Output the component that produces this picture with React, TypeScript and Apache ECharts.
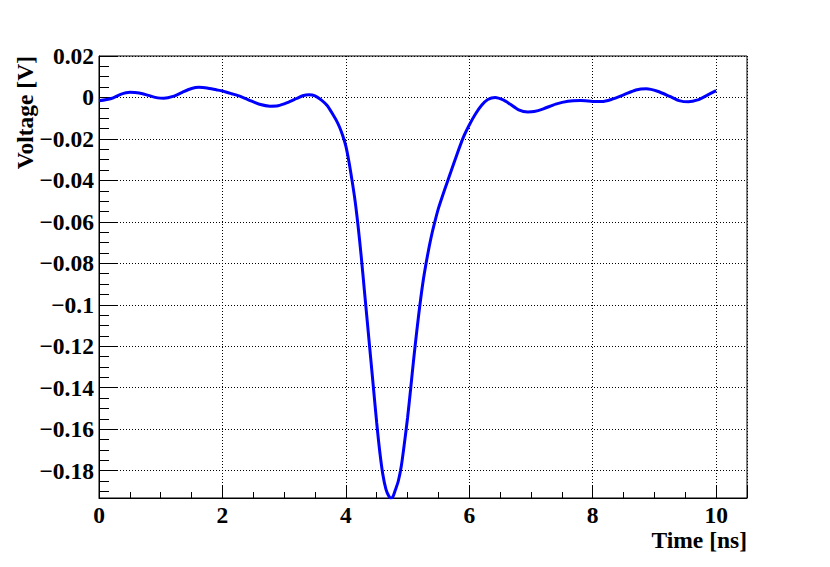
import React, { useEffect, useRef } from 'react';
import * as echarts from 'echarts';

// Time [ns]
const timeNs = [
  0.0, 0.2, 0.35, 0.5, 0.65, 0.8, 0.95, 1.05, 1.2, 1.35, 1.5, 1.62, 1.75, 1.9, 2.0,
  2.15, 2.3, 2.45, 2.6, 2.77, 2.9, 3.05, 3.2, 3.3, 3.4, 3.5, 3.6, 3.7, 3.8, 3.85,
  3.9, 3.95, 4.0, 4.05, 4.1, 4.15, 4.2, 4.25, 4.3, 4.35, 4.4, 4.45, 4.5, 4.55, 4.6,
  4.65, 4.7, 4.73, 4.76, 4.8, 4.85, 4.9, 4.95, 5.0, 5.05, 5.1, 5.15, 5.2, 5.25, 5.3,
  5.35, 5.4, 5.45, 5.5, 5.6, 5.7, 5.8, 5.9, 6.0, 6.1, 6.2, 6.3, 6.42, 6.55,
  6.66, 6.8, 6.95, 7.05, 7.2, 7.4, 7.6, 7.8, 8.0, 8.15, 8.3, 8.5, 8.7, 8.87, 9.05,
  9.25, 9.4, 9.55, 9.7, 9.85, 10.0,
];
// Voltage [V]
const voltageV = [
  -0.0016, -0.0005, 0.0015, 0.0025, 0.0022, 0.001, -0.0002, -0.0004, 0.0005, 0.0025, 0.0043, 0.0049, 0.0046, 0.0037, 0.0031,
  0.0018, 0.0004, -0.0015, -0.0033, -0.0042, -0.004, -0.0025, -0.0005, 0.0008, 0.0013, 0.0008, -0.0012, -0.004, -0.0087, -0.0113,
  -0.0145, -0.0185, -0.0235, -0.031, -0.04, -0.05, -0.0625, -0.077, -0.093, -0.109, -0.125, -0.141, -0.157, -0.171, -0.182,
  -0.189, -0.1925, -0.1932, -0.1927, -0.1895, -0.185, -0.1775, -0.1665, -0.1545, -0.1405, -0.126, -0.1125, -0.1, -0.089, -0.08,
  -0.072, -0.065, -0.059, -0.0535, -0.0445, -0.036, -0.0275, -0.0195, -0.0133, -0.008, -0.0038, -0.001, 0.0, -0.0012,
  -0.0032, -0.006, -0.007, -0.0068, -0.0055, -0.0032, -0.0018, -0.0015, -0.0019, -0.002, -0.001, 0.0012, 0.0036, 0.0042, 0.003,
  0.0005, -0.0015, -0.0021, -0.0012, 0.001, 0.0033,
];

const xTickValues = [0, 2, 4, 6, 8, 10];
const xTickLabels = ['0', '2', '4', '6', '8', '10'];
const yTickValues = [0.02, 0, -0.02, -0.04, -0.06, -0.08, -0.1, -0.12, -0.14, -0.16, -0.18];
const yTickLabels = ['0.02', '0', '\u22120.02', '\u22120.04', '\u22120.06', '\u22120.08', '\u22120.1', '\u22120.12', '\u22120.14', '\u22120.16', '\u22120.18'];

const X_MIN = 0;
const X_MAX = 10.5;
const Y_MIN = -0.1932;
const Y_MAX = 0.02;

const FONT = '"Liberation Serif", "Times New Roman", serif';
const FS = 23.5;

function lookup(values: number[], labels: string[], v: number): string {
  for (let i = 0; i < values.length; i++) {
    if (Math.abs(values[i] - v) < 1e-7) return labels[i];
  }
  return '';
}

export default function App() {
  const ref = useRef<HTMLDivElement>(null);
  useEffect(() => {
    if (!ref.current) return;
    const chart = echarts.init(ref.current, null, { renderer: 'svg' });
    // The y axis is drawn inverted on the negated voltage so that its
    // tick origin (-Y_MAX = -0.02) is a multiple of the tick interval.
    const data = timeNs.map((t, i) => [t, -voltageV[i]]);
    const gridLine = { show: true, lineStyle: { color: '#000', width: 1, type: [1, 2] as any } };
    chart.setOption({
      animation: false,
      backgroundColor: '#fff',
      grid: {
        left: 99,
        right: 83,
        top: 56,
        bottom: 69,
        show: true,
        borderColor: '#000',
        borderWidth: 1,
        backgroundColor: 'transparent',
      },
      xAxis: [
        {
          type: 'value',
          min: X_MIN,
          max: X_MAX,
          interval: 2,
          axisLine: { show: true, onZero: false, lineStyle: { color: '#000', width: 1 } },
          axisTick: { show: true, inside: true, length: 12, lineStyle: { color: '#000' } },
          axisLabel: {
            margin: 5,
            fontFamily: FONT,
            fontWeight: 'bold',
            fontSize: FS,
            color: '#000',
            formatter: (v: number) => lookup(xTickValues, xTickLabels, v),
          },
          splitLine: gridLine,
        },
        {
          type: 'value',
          min: X_MIN,
          max: X_MAX,
          interval: 0.5,
          position: 'bottom',
          axisLine: { show: false, onZero: false },
          axisTick: { show: true, inside: true, length: 6, lineStyle: { color: '#000' } },
          axisLabel: { show: false },
          splitLine: { show: false },
        },
      ],
      yAxis: [
        {
          type: 'value',
          inverse: true,
          min: -Y_MAX,
          max: -Y_MIN,
          interval: 0.02,
          axisLine: { show: true, onZero: false, lineStyle: { color: '#000', width: 1 } },
          axisTick: { show: true, inside: true, length: 18, lineStyle: { color: '#000' } },
          axisLabel: {
            margin: 5,
            fontFamily: FONT,
            fontWeight: 'bold',
            fontSize: FS,
            color: '#000',
            formatter: (v: number) => lookup(yTickValues, yTickLabels, -v),
          },
          splitLine: gridLine,
        },
        {
          type: 'value',
          inverse: true,
          min: -Y_MAX,
          max: -Y_MIN,
          interval: 0.005,
          position: 'left',
          axisLine: { show: false, onZero: false },
          axisTick: { show: true, inside: true, length: 10, lineStyle: { color: '#000' } },
          axisLabel: { show: false },
          splitLine: { show: false },
        },
      ],
      graphic: [
        {
          type: 'text',
          x: 747,
          y: 540,
          style: {
            text: 'Time [ns]',
            fontFamily: FONT,
            fontWeight: 'bold',
            fontSize: FS,
            fill: '#000',
            align: 'right',
            verticalAlign: 'middle',
          },
        },
        {
          type: 'text',
          x: 25,
          y: 56,
          rotation: Math.PI / 2,
          style: {
            text: 'Voltage [V]',
            fontFamily: FONT,
            fontWeight: 'bold',
            fontSize: FS,
            fill: '#000',
            align: 'right',
            verticalAlign: 'middle',
          },
        },
      ],
      series: [
        {
          type: 'line',
          xAxisIndex: 0,
          yAxisIndex: 0,
          data,
          showSymbol: false,
          smooth: 0.25,
          lineStyle: { color: '#0000ff', width: 3 },
          z: 5,
        },
      ],
    });
    return () => chart.dispose();
  }, []);
  return (
    <div
      ref={ref}
      style={{ position: 'fixed', left: 0, top: 0, width: 830, height: 567, background: '#fff' }}
    />
  );
}
